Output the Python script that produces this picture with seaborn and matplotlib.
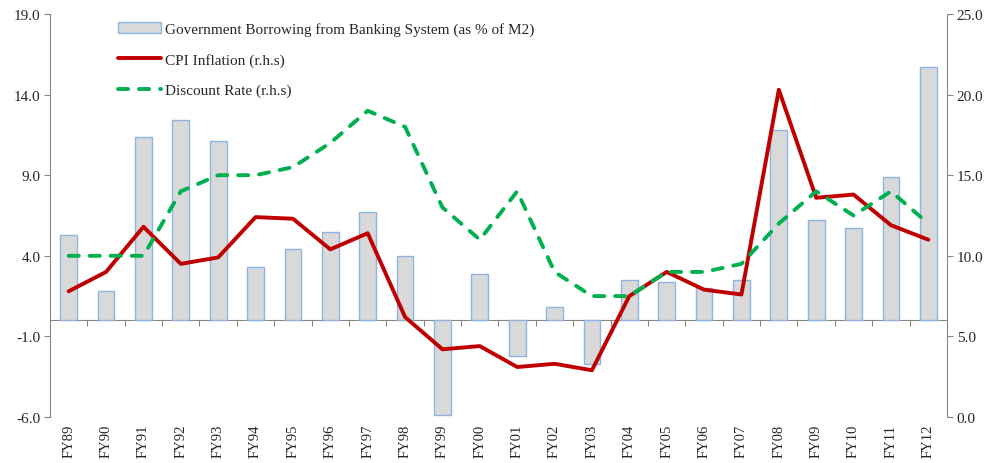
import numpy as np
import matplotlib
matplotlib.use("Agg")
import matplotlib.pyplot as plt
import seaborn as sns
from matplotlib.lines import Line2D
from matplotlib.patches import Patch

# Data
fiscal_years = ["FY89", "FY90", "FY91", "FY92", "FY93", "FY94", "FY95", "FY96",
                "FY97", "FY98", "FY99", "FY00", "FY01", "FY02", "FY03", "FY04",
                "FY05", "FY06", "FY07", "FY08", "FY09", "FY10", "FY11", "FY12"]
govt_borrowing = [5.3, 1.8, 11.4, 12.4, 11.1, 3.3, 4.4, 5.5, 6.7, 4.0, -5.9, 2.9,
                  -2.2, 0.8, -2.7, 2.5, 2.4, 2.0, 2.5, 11.8, 6.2, 5.7, 8.9, 15.7]
cpi_inflation = [7.8, 9.0, 11.8, 9.5, 9.9, 12.4, 12.3, 10.4, 11.4, 6.2, 4.2, 4.4,
                 3.1, 3.3, 2.9, 7.5, 9.0, 7.9, 7.6, 20.3, 13.6, 13.8, 11.9, 11.0]
discount_rate = [10.0, 10.0, 10.0, 14.0, 15.0, 15.0, 15.5, 17.0, 19.0, 18.0, 13.0, 11.0,
                 14.0, 9.0, 7.5, 7.5, 9.0, 9.0, 9.5, 12.0, 14.0, 12.5, 14.0, 12.0]

left_ticks = [-6.0, -1.0, 4.0, 9.0, 14.0, 19.0]
right_ticks = [0.0, 5.0, 10.0, 15.0, 20.0, 25.0]

bar_label = "Government Borrowing from Banking System (as % of M2)"
cpi_label = "CPI Inflation (r.h.s)"
disc_label = "Discount Rate (r.h.s)"

sns.set_style("white")
plt.rcParams["font.family"] = ["Liberation Serif", "DejaVu Serif"]
plt.rcParams["font.size"] = 10

axis_grey = "#868686"
bar_face = "#D9D9D9"
bar_edge = "#8EB4E3"
red = "#C00000"
green = "#00B050"
dash_pat = (2.6, 2.8)

fig = plt.figure(figsize=(9.9, 4.64), dpi=100)
ax = fig.add_axes([50 / 990, 1 - 418 / 464, (947 - 50) / 990, (418 - 15) / 464])

sns.barplot(x=fiscal_years, y=govt_borrowing, color=bar_face, edgecolor=bar_edge,
            linewidth=1, width=0.45, saturation=1, ax=ax)
n = len(fiscal_years)
ax.set_xlim(-0.5, n - 0.5)
ax.set_ylim(left_ticks[0], left_ticks[-1])
ax.set_yticks(left_ticks, labels=[f"{t:.1f}" for t in left_ticks])
ax.set_xlabel("")
ax.set_ylabel("")

ax2 = ax.twinx()
x_pos = np.arange(n)
sns.lineplot(x=x_pos, y=cpi_inflation, color=red, linewidth=2.8, ax=ax2)
sns.lineplot(x=x_pos, y=discount_rate, color=green, linewidth=2.8, ax=ax2,
             dashes=False)
ax2.lines[-1].set_dashes(dash_pat)
ax2.lines[-1].set_dash_capstyle("round")
ax2.set_ylim(right_ticks[0], right_ticks[-1])
ax2.set_yticks(right_ticks, labels=[f"{t:.1f}" for t in right_ticks])
ax2.set_xlim(-0.5, n - 0.5)

# spines and ticks
for a in (ax, ax2):
    for s in a.spines.values():
        s.set_visible(False)
    a.tick_params(axis="y", direction="out", length=4, color=axis_grey,
                  labelsize=11, pad=3)
ax.spines["left"].set_visible(True)
ax.spines["left"].set_color(axis_grey)
ax2.spines["right"].set_visible(True)
ax2.spines["right"].set_color(axis_grey)

ax.tick_params(axis="x", length=0, rotation=90, labelsize=10.5, pad=5)
ax2.tick_params(axis="x", length=0, labelbottom=False)

# horizontal axis line at zero on the left scale, ticks between categories
zero_frac = (0 - left_ticks[0]) / (left_ticks[-1] - left_ticks[0])
sec = ax.secondary_xaxis(zero_frac)
sec.set_alignment("bottom")
sec.set_xticks(np.arange(n - 1) + 0.5, labels=[])
sec.tick_params(direction="out", length=4, color=axis_grey)
for name, s in sec.spines.items():
    s.set_visible(name == "bottom")
    s.set_color(axis_grey)

handles = [
    Patch(facecolor=bar_face, edgecolor=bar_edge, linewidth=1),
    Line2D([], [], color=red, linewidth=2.8),
    Line2D([], [], color=green, linewidth=2.8, dashes=dash_pat, dash_capstyle="round"),
]
fig.legend(handles, [bar_label, cpi_label, disc_label], loc="upper left",
           bbox_to_anchor=(118 / 990, 1 - 23 / 464), frameon=False,
           fontsize=11, handlelength=2.8, handletextpad=0.3,
           labelspacing=1.1, borderpad=0, borderaxespad=0)

fig.savefig("out.png", dpi=100)
